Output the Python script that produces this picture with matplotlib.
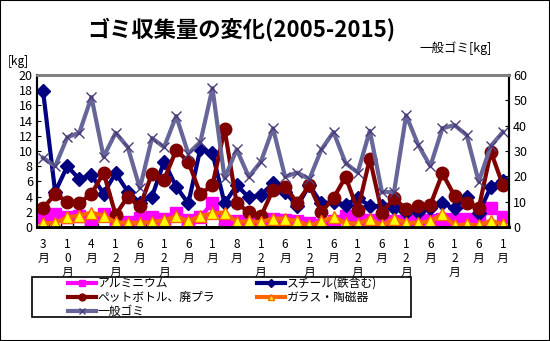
import matplotlib.pyplot as plt
import matplotlib.patches as mpatches
import numpy as np

plt.rcParams['font.family'] = ['Noto Sans CJK JP', 'DejaVu Sans']

# x tick labels (every second category)
months = ["3月", "10月", "4月", "12月", "6月", "12月", "6月", "1月", "8月", "12月",
          "6月", "12月", "6月", "12月", "6月", "12月", "6月", "12月", "6月", "1月"]

# kg, left axis
aluminium = [1.3, 1.75, 1.3, 1.45, 1.1, 1.75, 0.4, 0.65, 1.2, 1.35,
             1.1, 1.8, 0.9, 1.3, 3.2, 0.4, 0.85, 0.9, 0.8, 1.0,
             0.9, 0.75, 0.55, 0.2, 0.75, 1.45, 1.0, 0.9, 0.75, 0.75,
             0.75, 0.75, 0.9, 1.0, 1.0, 1.0, 0.9, 2.5, 1.3]
steel = [17.9, 4.6, 8.0, 6.3, 6.85, 4.4, 7.1, 4.65, 3.2, 4.0,
         8.6, 5.3, 3.1, 10.3, 9.7, 3.1, 5.5, 3.9, 4.2, 5.75,
         4.65, 2.7, 5.5, 3.1, 3.3, 2.9, 3.8, 2.8, 2.7, 2.45,
         2.0, 2.0, 2.45, 3.1, 2.45, 4.0, 1.8, 5.3, 6.1]
pet = [2.45, 4.35, 3.3, 3.2, 4.35, 7.15, 1.6, 4.0, 2.7, 7.0,
       6.25, 10.1, 8.6, 4.35, 5.5, 12.85, 3.1, 2.0, 1.4, 4.9,
       5.3, 3.2, 5.5, 2.0, 3.8, 6.6, 2.2, 9.0, 1.9, 3.8,
       2.35, 2.7, 2.9, 7.05, 4.1, 3.2, 2.45, 9.9, 5.5]
glass = [0.5, 0.5, 1.3, 1.5, 1.9, 1.5, 0.6, 0.55, 0.55, 0.65,
         0.9, 1.4, 0.75, 1.45, 1.8, 1.9, 0.65, 0.75, 0.65, 1.1,
         1.1, 0.75, 0.2, 0.75, 1.3, 0.5, 0.45, 1.0, 0.2, 1.1,
         0.55, 0.55, 0.75, 1.75, 0.2, 0.35, 0.2, 0.85, 0.35]
# kg, right axis
general = [27.3, 24.0, 35.4, 37.2, 51.3, 27.7, 37.2, 31.5, 15.3, 35.1,
           31.5, 43.8, 29.0, 33.6, 54.8, 19.2, 30.6, 19.8, 25.8, 39.0,
           19.8, 21.5, 18.9, 30.6, 37.5, 25.2, 21.5, 38.0, 13.8, 13.8,
           44.1, 32.4, 24.0, 39.0, 40.2, 36.3, 17.9, 32.0, 37.5]

x = np.arange(len(steel))
W, H = 550, 341

fig = plt.figure(figsize=(5.5, 3.41), dpi=100)
fig.patches.append(mpatches.Rectangle((0, 0), 1, 1, transform=fig.transFigure,
                                      fill=False, edgecolor='black', linewidth=1.5))

ax = fig.add_axes([37/W, 1-227/H, 472/W, 152/H])
ax2 = ax.twinx()

lw = 3
l1, = ax.plot(x, aluminium, color='#FF00FF', lw=lw, marker='s', ms=8,
              mfc='#FF00FF', mec='#FF00FF', zorder=3)
l2, = ax.plot(x, steel, color='#000080', lw=lw, marker='D', ms=7.5,
              mfc='#000080', mec='#000080', zorder=4)
l3, = ax.plot(x, pet, color='#800000', lw=lw, marker='o', ms=9,
              mfc='#800000', mec='#800000', zorder=5)
l4, = ax.plot(x, glass, color='#FF6600', lw=lw, marker='^', ms=8,
              mfc='#FFFF00', mec='#FF6600', mew=1, zorder=6)
l5, = ax2.plot(x, general, color='#666699', lw=lw, marker='x', ms=7,
               mec='#4B3D7A', mew=1)

ax.set_xlim(-0.5, len(x) - 0.5)
ax.set_ylim(0, 20)
ax2.set_ylim(0, 60)
ax.set_yticks(np.arange(0, 21, 2))
ax2.set_yticks(np.arange(0, 61, 10))
ax.set_xticks(x[::2])
ax.set_xticklabels(["\n".join(m) for m in months], fontsize=8.5, linespacing=1.08)
ax.set_xticks(np.arange(-0.5, len(x), 1), minor=True)
ax.tick_params(axis='x', which='major', length=0, pad=8)
ax.tick_params(axis='x', which='minor', direction='in', length=3, width=1)
ax.tick_params(axis='y', direction='in', length=3, labelsize=9, pad=3)
ax2.tick_params(axis='y', direction='in', length=3, labelsize=9, pad=3)

for a in (ax, ax2):
    a.spines['top'].set_color('#808080')
    a.spines['top'].set_linewidth(2)
    a.spines['left'].set_linewidth(1.5)
    a.spines['right'].set_linewidth(1.5)
    a.spines['bottom'].set_linewidth(2)

fig.text(241/W, 1-29/H, 'ゴミ収集量の変化(2005-2015)', fontsize=16,
         fontweight='bold', ha='center', va='center')
fig.text(8/W, 1-62/H, '[kg]', fontsize=8.5, ha='left', va='center')
fig.text(492/W, 1-48/H, '一般ゴミ[kg]', fontsize=9, ha='right', va='center')

# legend frame, then two frameless columns placed inside it
fig.patches.append(mpatches.Rectangle((32/W, 1-317/H), 379/W, 40/H,
                                      transform=fig.transFigure, fill=False,
                                      edgecolor='black', linewidth=1.2))
leg_kw = dict(loc='upper left', fontsize=8.5, frameon=False, borderpad=0,
              labelspacing=0.1, handlelength=2.4, handletextpad=0.1,
              markerscale=0.55, borderaxespad=0)
fig.legend([l1, l3, l5], ['アルミニウム', 'ペットボトル、廃プラ', '一般ゴミ'],
           bbox_to_anchor=(68/W, 1-277/H), **leg_kw)
fig.legend([l2, l4], ['スチール(鉄含む)', 'ガラス・陶磁器'],
           bbox_to_anchor=(257/W, 1-277/H), **leg_kw)

fig.savefig('out.png', dpi=100)
